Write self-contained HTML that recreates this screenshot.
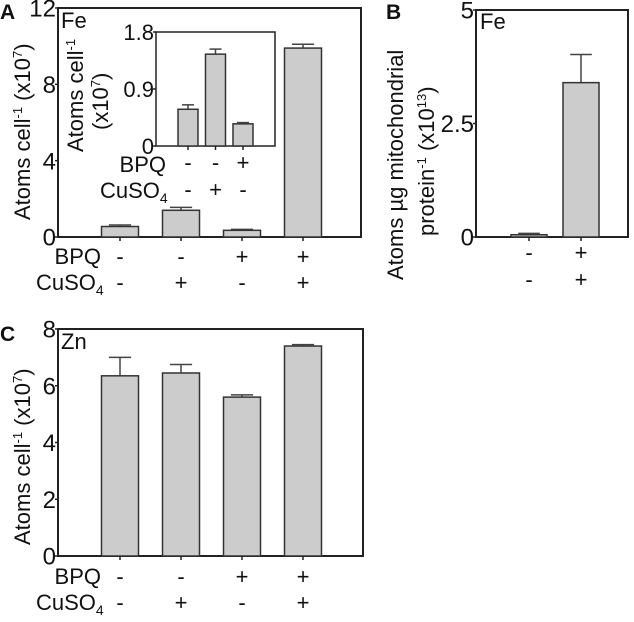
<!DOCTYPE html>
<html><head><meta charset="utf-8"><style>
body{margin:0;background:#fff;}
svg text{font-family:"Liberation Sans",sans-serif;fill:#111;}
</style></head><body>
<svg id="fig" width="634" height="622" viewBox="0 0 634 622" style="position:absolute;left:0;top:0"></svg>
<script>
const catsA=["1","2","3","4"];
const valsA=[0.55,1.4,0.35,9.9];
const errA=[0.08,0.15,0.05,0.2];
const ticksA=[0,4,8,12];
const valsInset=[0.58,1.45,0.35];
const errInset=[0.07,0.08,0.02];
const ticksInset=["0","0.9","1.8"];
const valsB=[0.05,3.4];
const errB=[0.03,0.62];
const ticksB=["0","2.5","5"];
const valsC=[6.35,6.45,5.6,7.4];
const errC=[0.65,0.3,0.08,0.05];
const ticksC=[0,2,4,6,8];
const bpqA=["-","-","+","+"];
const cuA=["-","+","-","+"];
const bpqIn=["-","-","+"];
const cuIn=["-","+","-"];
const bpqB=["-","+"];
const cuB=["-","+"];

const svg=document.getElementById('fig');
const NS="http://www.w3.org/2000/svg";
function el(tag,attrs,parent){const e=document.createElementNS(NS,tag);for(const k in attrs)e.setAttribute(k,attrs[k]);(parent||svg).appendChild(e);return e;}
function txt(x,y,s,size,anchor,parent){const t=el('text',{x:x,y:y,'font-size':size,'text-anchor':anchor||'start'},parent);t.textContent=s;return t;}

function chart(o){
  const g=el('g',{});
  
  
  const y=v=>o.y0-(v/o.max)*(o.y0-o.y1);
  const f=el('rect',{x:o.x0,y:o.y1,width:o.x2-o.x0,height:o.y0-o.y1,fill:'none',stroke:'#222','stroke-width':o.sw||2},g);
  
  
  o.ticks.forEach(t=>{
    const ty=y(parseFloat(t));
    el('line',{x1:o.x0-3,x2:o.x0,y1:ty,y2:ty,stroke:'#222','stroke-width':1.5},g);
    const l=txt(o.x0-2,ty+o.fs*0.36,String(t),o.fs,'end',g);
    
    
  });
  o.vals.forEach((v,i)=>{
    const cx=o.c0+i*o.step;
    const top=y(v), et=y(v+o.err[i]);
    el('line',{x1:cx,x2:cx,y1:top,y2:et,stroke:'#444','stroke-width':1.5},g);
    el('line',{x1:cx-o.bw*0.3,x2:cx+o.bw*0.3,y1:et,y2:et,stroke:'#444','stroke-width':1.5},g);
    const b=el('rect',{x:cx-o.bw/2,y:top,width:o.bw,height:o.y0-top,fill:'#cccccc',stroke:'#333','stroke-width':1.5},g);
    
    
    el('line',{x1:cx,x2:cx,y1:o.y0,y2:o.y0+4,stroke:'#222','stroke-width':1.5},g);
    if(o.bpq){txt(cx,o.ly1,o.bpq[i],o.lfs,'middle',g);}
    if(o.cu){txt(cx,o.ly2,o.cu[i],o.lfs,'middle',g);}
  });
  return g;
}

chart({name:'panel-a-chart',x0:58,x2:361,y0:237,y1:8,max:12,ticks:ticksA,vals:valsA,err:errA,c0:120,step:61,bw:37,fs:24,lfs:22,bpq:bpqA,cu:cuA,ly1:264,ly2:290});
chart({name:'panel-a-inset',x0:156,x2:275,y0:146,y1:32,max:1.8,ticks:ticksInset,vals:valsInset,err:errInset,c0:188,step:27.5,bw:20,fs:22,lfs:22,sw:1.5,bpq:bpqIn,cu:cuIn,ly1:170,ly2:197});
chart({name:'panel-b-chart',x0:476,x2:628,y0:237,y1:10,max:5,ticks:ticksB,vals:valsB,err:errB,c0:529,step:52,bw:36,fs:24,lfs:22,bpq:bpqB,cu:cuB,ly1:260,ly2:287});
chart({name:'panel-c-chart',x0:58,x2:363,y0:556,y1:329,max:8,ticks:ticksC,vals:valsC,err:errC,c0:120,step:61,bw:37,fs:24,lfs:22,bpq:bpqA,cu:cuA,ly1:584,ly2:610});
</script>
<svg width="634" height="622" style="position:absolute;left:0;top:0">
<g style="font-family:'Liberation Sans',sans-serif;fill:#111">
<text x="0" y="19" font-size="21" font-weight="bold">A</text>
<text x="61" y="28" font-size="22">Fe</text>
<text transform="translate(30,220) rotate(-90)" font-size="22">Atoms cell<tspan font-size="13" dy="-8">-1</tspan><tspan dy="8"> (x10</tspan><tspan font-size="13" dy="-8">7</tspan><tspan dy="8">)</tspan></text>
<text transform="translate(83,152) rotate(-90)" font-size="22">Atoms cell<tspan font-size="13" dy="-8">-1</tspan></text>
<text transform="translate(108,130) rotate(-90)" font-size="22">(x10<tspan font-size="13" dy="-8">7</tspan><tspan dy="8">)</tspan></text>
<text x="166" y="172" font-size="22" text-anchor="end">BPQ</text>
<text x="100" y="198" font-size="22">CuSO<tspan font-size="14" dy="5">4</tspan></text>
<text x="101" y="264" font-size="22" text-anchor="end">BPQ</text>
<text x="36" y="290" font-size="22">CuSO<tspan font-size="14" dy="5">4</tspan></text>
<text x="386" y="19" font-size="21" font-weight="bold">B</text>
<text x="480" y="29" font-size="22">Fe</text>
<text transform="translate(403,280) rotate(-90)" font-size="22">Atoms µg mitochondrial</text>
<text transform="translate(434,236) rotate(-90)" font-size="22">protein<tspan font-size="13" dy="-8">-1</tspan><tspan dy="8"> (x10</tspan><tspan font-size="13" dy="-8">13</tspan><tspan dy="8">)</tspan></text>
<text x="0" y="341" font-size="21" font-weight="bold">C</text>
<text x="61" y="349" font-size="22">Zn</text>
<text transform="translate(30,545) rotate(-90)" font-size="22">Atoms cell<tspan font-size="13" dy="-8">-1</tspan><tspan dy="8"> (x10</tspan><tspan font-size="13" dy="-8">7</tspan><tspan dy="8">)</tspan></text>
<text x="101" y="584" font-size="22" text-anchor="end">BPQ</text>
<text x="36" y="610" font-size="22">CuSO<tspan font-size="14" dy="5">4</tspan></text>
</g>
</svg>
</body></html>
